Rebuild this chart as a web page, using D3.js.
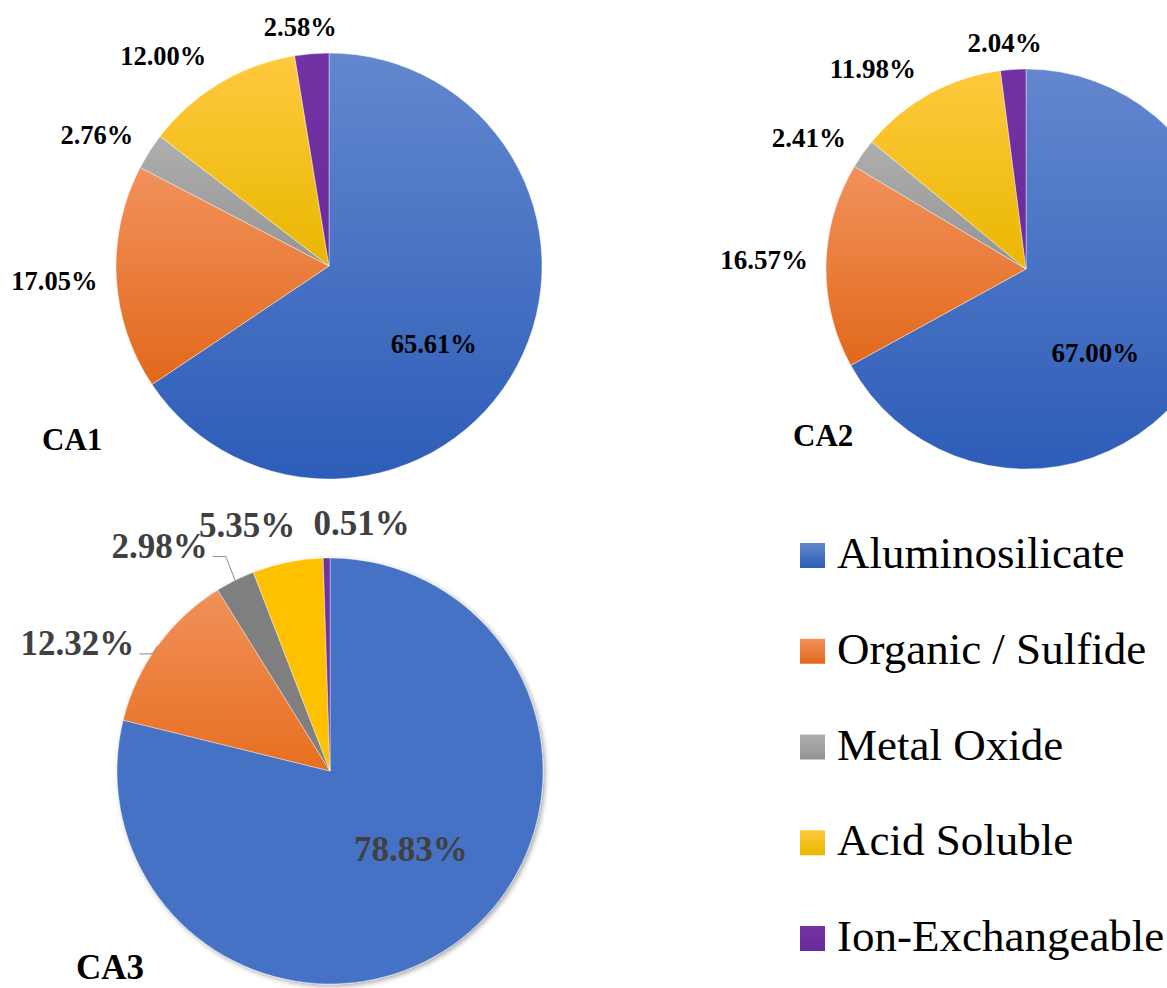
<!DOCTYPE html>
<html>
<head>
<meta charset="utf-8">
<script src="https://cdn.jsdelivr.net/npm/d3@7"></script>
<style>
  html, body { margin: 0; padding: 0; background: #ffffff; }
  svg { display: block; }
</style>
</head>
<body>
<svg id="chart" width="1167" height="988"></svg>
<script>
// ---------------- DATA ----------------
const categories = ["Aluminosilicate", "Organic / Sulfide", "Metal Oxide", "Acid Soluble", "Ion-Exchangeable"];
const samples = ["CA1", "CA2", "CA3"];
const ca1Values = [65.61, 17.05, 2.76, 12.00, 2.58];
const ca2Values = [67.00, 16.57, 2.41, 11.98, 2.04];
const ca3Values = [78.83, 12.32, 2.98, 5.35, 0.51];
const sampleValues = [ca1Values, ca2Values, ca3Values];

// ---------------- STYLE / LAYOUT ----------------
const gradColors = [
  ["#6387ce", "#2d5db8"],
  ["#f2925c", "#e1681b"],
  ["#aeaeae", "#949494"],
  ["#ffc93e", "#e9b700"],
  ["#7332a3", "#6a2c99"]
];
const flatColors = [
  ["#4472c4", "#4472c4"],
  ["#f1905a", "#e76f1f"],
  ["#7f7f7f", "#7f7f7f"],
  ["#ffc000", "#ffc000"],
  ["#7030a0", "#7030a0"]
];
const layout = [
  { cx: 329, cy: 266, r: 213, font: 26.5, color: "#000000", palette: gradColors, shadow: false,
    title: { dx: -287, dy: 184, size: 31 },
    nudges: [[-8, 18], [1, 2], [-5, -1], [-24, -2], [-7, 2]],
    leaders: [false, false, false, false, false] },
  { cx: 1026, cy: 269, r: 200, font: 27, color: "#000000", palette: gradColors, shadow: false,
    title: { dx: -233, dy: 177, size: 31 },
    nudges: [[-34, 23], [2, -5], [-7, 1], [-26, 0], [-5, 3]],
    leaders: [false, false, false, false, false] },
  { cx: 330, cy: 771, r: 213, font: 35, color: "#404040", palette: flatColors, shadow: true,
    title: { dx: -254, dy: 208, size: 35 },
    nudges: [[2, -22], [-18, 16], [-45, -6], [-27, -6], [36, -3]],
    leaders: [false, true, true, false, false] }
];
const FONT = "'Liberation Serif', 'Times New Roman', serif";

const svg = d3.select("#chart");
const defs = svg.append("defs");

// gradients
function makeGrad(id, c) {
  const g = defs.append("linearGradient").attr("id", id)
    .attr("x1", 0).attr("y1", 0).attr("x2", 0).attr("y2", 1);
  g.append("stop").attr("offset", "0%").attr("stop-color", c[0]);
  g.append("stop").attr("offset", "100%").attr("stop-color", c[1]);
}
gradColors.forEach((c, i) => makeGrad("g" + i, c));
flatColors.forEach((c, i) => makeGrad("f" + i, c));

const shadow = defs.append("filter").attr("id", "shadow")
  .attr("x", "-10%").attr("y", "-10%").attr("width", "120%").attr("height", "120%");
shadow.append("feDropShadow").attr("dx", 2).attr("dy", 2).attr("stdDeviation", 2.5)
  .attr("flood-color", "#000").attr("flood-opacity", 0.35);

const pie = d3.pie().sort(null).value(d => d);

samples.forEach((name, si) => {
  const L = layout[si];
  const vals = sampleValues[si];
  const arcs = pie(vals);
  const arc = d3.arc().innerRadius(0).outerRadius(L.r);
  const gradPrefix = L.palette === gradColors ? "g" : "f";

  const g = svg.append("g").attr("transform", `translate(${L.cx},${L.cy})`);
  const slices = g.append("g");
  if (L.shadow) slices.attr("filter", "url(#shadow)");
  slices.selectAll("path").data(arcs).enter().append("path")
    .attr("d", arc)
    .attr("fill", (d, i) => `url(#${gradPrefix}${i})`)
    .attr("stroke", "#ffffff").attr("stroke-opacity", 0.5).attr("stroke-width", 0.8);

  // labels
  const fmt = d3.format(".2f");
  const labelG = g.append("g");
  arcs.forEach((d, i) => {
    const mid = (d.startAngle + d.endAngle) / 2;
    const ux = Math.sin(mid), uy = -Math.cos(mid);
    const t = labelG.append("text")
      .attr("font-family", FONT).attr("font-weight", "bold")
      .attr("font-size", L.font).attr("fill", L.color)
      .attr("text-anchor", "middle")
      .text(fmt(d.data) + "%");
    const w = t.node().getComputedTextLength();
    const h = 0.68 * L.font;
    let cx, cy;
    if (i === 0) {
      cx = ux * 0.6 * L.r;
      cy = uy * 0.6 * L.r;
    } else {
      const gap = 20;
      cx = ux * (L.r + gap) + ux * w / 2;
      cy = uy * (L.r + gap) + uy * h / 2;
    }
    cx += L.nudges[i][0];
    cy += L.nudges[i][1];
    const baseline = cy + 0.338 * L.font;
    t.attr("x", cx).attr("y", baseline);

    if (L.leaders[i]) {
      const right = cx + w / 2;
      const pts = [[ux * L.r, uy * L.r], [right + 18, baseline - 1], [right + 5, baseline - 1]];
      labelG.append("path")
        .attr("d", d3.line()(pts))
        .attr("fill", "none").attr("stroke", "#8c8c8c").attr("stroke-width", 1);
    }
  });

  // sample title
  g.append("text")
    .attr("x", L.title.dx).attr("y", L.title.dy)
    .attr("font-family", FONT).attr("font-weight", "bold")
    .attr("font-size", L.title.size).attr("fill", "#000")
    .text(name);
});

// ---------------- LEGEND ----------------
const legendY = d3.scalePoint().domain(categories).range([568, 951]);
const legend = svg.append("g");
categories.forEach((c, i) => {
  const y = legendY(c);
  legend.append("rect")
    .attr("x", 800).attr("y", y - 25).attr("width", 25).attr("height", 25)
    .attr("fill", `url(#g${i})`);
  legend.append("text")
    .attr("x", 837).attr("y", y)
    .attr("font-family", FONT).attr("font-size", 45).attr("fill", "#000")
    .text(c);
});
</script>
</body>
</html>
